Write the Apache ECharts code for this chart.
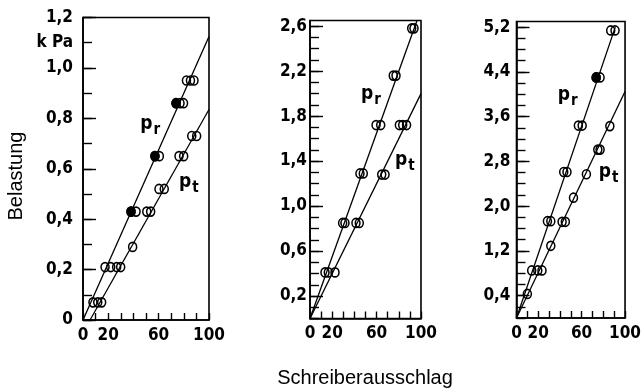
<!DOCTYPE html>
<html><head><meta charset="utf-8">
<script src="https://cdn.jsdelivr.net/npm/echarts@6/dist/echarts.min.js"></script>
<style>html,body{margin:0;padding:0;background:#fff}#c{width:644px;height:392px}</style>
</head><body><div id="c"></div>
<script>
// ---------- data ----------
const xTickLabels = [0, 20, 60, 100];

// left panel (kPa, 0..1.2)
const leftYLabels = [0, 0.2, 0.4, 0.6, 0.8, 1.0, 1.1, 1.2];
const leftPr = [[7.9,0.07],[17.5,0.21],[22,0.21],[38.1,0.43],[42.1,0.43],[57.1,0.65],[60.6,0.65],[73.8,0.86],[77,0.86],[79.8,0.86],[82.1,0.95],[85.3,0.95],[88.1,0.95]];
const leftPrSolid = [[38.1,0.43],[57.1,0.65],[73.8,0.86]];
const leftPt = [[11.7,0.07],[14.8,0.07],[26.7,0.21],[29.9,0.21],[39.4,0.29],[50.6,0.43],[53.7,0.43],[60.3,0.52],[64.5,0.52],[76.2,0.65],[79.9,0.65],[86.3,0.73],[90.2,0.73]];
const leftPrFit = [[0,0],[100,1.125]];
const leftPtFit = [[5.6,0],[100,0.835]];
const leftPrText = [49.4, 0.767];
const leftPtText = [80.2, 0.536];

// middle panel (0..2.65)
const midYLabels = [0.2, 0.6, 1.0, 1.4, 1.8, 2.2, 2.6];
const midPr = [[13.5,0.41],[16.5,0.41],[29.4,0.85],[31.5,0.85],[45,1.29],[48,1.29],[59.5,1.72],[63.7,1.72],[75,2.16],[77.5,2.16],[91.6,2.58],[93.7,2.58]];
const midPt = [[22.5,0.41],[41.4,0.85],[44.4,0.85],[64.6,1.28],[67.6,1.28],[80.5,1.72],[83.5,1.72],[87,1.72]];
const midPrFit = [[0,0],[96.4,2.65]];
const midPtFit = [[0,0],[100,2.0]];
const midPrText = [50.5, 1.97];
const midPtText = [81, 1.38];

// right panel (0..5.3)
const rightYLabels = [0.4, 1.2, 2.0, 2.8, 3.6, 4.4, 5.2];
const rightPr = [[14,0.85],[28.5,1.73],[31.6,1.73],[43.5,2.61],[46.5,2.61],[57,3.44],[60.5,3.44],[73.4,4.3],[77,4.3],[86.8,5.14],[90.8,5.14]];
const rightPrSolid = [[73.4,4.3]];
const rightPt = [[10,0.43],[19.6,0.85],[23.5,0.85],[31.6,1.29],[42,1.72],[45,1.72],[52.5,2.15],[64.4,2.57],[74.9,3.01],[77,3.01],[86,3.43]];
const rightPrFit = [[0,0],[91,5.2]];
const rightPtFit = [[0,0],[100,4.05]];
const rightPrText = [42.6, 3.93];
const rightPtText = [80.5, 2.55];

// ---------- helpers ----------
const NUMFONT = '"DejaVu Sans Condensed","Liberation Sans Narrow","Liberation Sans",sans-serif';
const TXTFONT = '"Liberation Sans",Arial,sans-serif';
function steps(max, step) {
  const out = [];
  for (let i = 0; i * step <= max + 1e-9; i++) out.push(Math.round(i * step * 100) / 100);
  return out;
}
const xMinor = steps(100, 10);
function fmt(v) {
  const r = Math.round(v * 100) / 100;
  if (Math.abs(r - 1.1) < 1e-9) return 'k Pa';
  if (r === 0) return '0';
  return r.toFixed(1).replace('.', ',');
}

const panels = [
  { grid: {left: 83, top: 17.5, width: 126, height: 302.5}, max: 1.2, step: 0.1,
    labels: leftYLabels, majors: leftYLabels.filter(v => Math.abs(v - 1.1) > 1e-9), margin: 10,
    pr: leftPr, pt: leftPt, solid: leftPrSolid, prFit: leftPrFit, ptFit: leftPtFit, prText: leftPrText, ptText: leftPtText },
  { grid: {left: 310, top: 20.5, width: 111, height: 298}, max: 2.65, step: 0.1,
    labels: midYLabels, majors: midYLabels, margin: 3,
    pr: midPr, pt: midPt, solid: [], prFit: midPrFit, ptFit: midPtFit, prText: midPrText, ptText: midPtText },
  { grid: {left: 516.5, top: 21.5, width: 111.5, height: 296.5}, max: 5.3, step: 0.2,
    labels: rightYLabels, majors: rightYLabels, margin: 6,
    pr: rightPr, pt: rightPt, solid: rightPrSolid, prFit: rightPrFit, ptFit: rightPtFit, prText: rightPrText, ptText: rightPtText }
];

const grids = [], xAxes = [], yAxes = [], series = [];
panels.forEach((p, gi) => {
  grids.push(Object.assign({show: true, borderColor: '#000', borderWidth: 1.6, backgroundColor: 'transparent'}, p.grid));
  xAxes.push({
    type: 'value', gridIndex: gi, min: 0, max: 100,
    axisLine: {show: true, lineStyle: {color: '#000', width: 1.6}},
    axisTick: {show: true, inside: true, length: 7, customValues: xMinor, lineStyle: {color: '#000', width: 1.4}},
    axisLabel: {show: true, customValues: xTickLabels, margin: 7, color: '#000', fontSize: 17, fontWeight: 'bold', fontFamily: NUMFONT},
    splitLine: {show: false}
  });
  const yMain = yAxes.length;
  yAxes.push({
    type: 'value', gridIndex: gi, position: 'left', min: 0, max: p.max,
    axisLine: {show: true, lineStyle: {color: '#000', width: 1.6}},
    axisTick: {show: true, inside: true, length: 9, customValues: steps(p.max, p.step), lineStyle: {color: '#000', width: 1.4}},
    axisLabel: {show: true, customValues: p.labels, margin: p.margin, color: '#000', fontSize: 17, fontWeight: 'bold', fontFamily: NUMFONT, formatter: fmt},
    splitLine: {show: false}
  });
  yAxes.push({
    type: 'value', gridIndex: gi, position: 'left', min: 0, max: p.max,
    axisLine: {show: false},
    axisTick: {show: true, inside: true, length: 13, customValues: p.majors, lineStyle: {color: '#000', width: 1.4}},
    axisLabel: {show: false}, splitLine: {show: false}
  });
  const lineS = d => ({type: 'line', xAxisIndex: gi, yAxisIndex: yMain, data: d, showSymbol: false, symbol: 'none',
    lineStyle: {color: '#000', width: 1.3}, silent: true, z: 2, animation: false});
  const dotS = (d, fill) => ({type: 'scatter', xAxisIndex: gi, yAxisIndex: yMain, data: d, symbol: 'circle',
    symbolSize: [8, 9], itemStyle: {color: fill, borderColor: '#000', borderWidth: 1.6, opacity: 1},
    silent: true, z: 3, animation: false});
  const textS = (pos, sub) => ({type: 'scatter', xAxisIndex: gi, yAxisIndex: yMain, data: [pos], symbolSize: 0,
    itemStyle: {opacity: 1, color: '#000'},
    silent: true, z: 4, animation: false,
    label: {show: true, opacity: 1, position: 'inside', align: 'left', verticalAlign: 'middle', offset: [-5, -3],
      formatter: '{a|p}{b|' + sub + '}',
      rich: {a: {fontSize: 19, fontWeight: 'bold', fontFamily: NUMFONT, color: '#000', opacity: 1},
             b: {fontSize: 15, fontWeight: 'bold', fontFamily: NUMFONT, color: '#000', opacity: 1, padding: [12, 0, 0, 1]}}}});
  series.push(lineS(p.prFit), lineS(p.ptFit), dotS(p.pr, 'rgba(0,0,0,0)'), dotS(p.pt, 'rgba(0,0,0,0)'));
  if (p.solid.length) series.push(dotS(p.solid, '#000'));
  series.push(textS(p.prText, 'r'), textS(p.ptText, 't'));
});

const chart = echarts.init(document.getElementById('c'), null, {renderer: 'canvas'});
chart.setOption({
  backgroundColor: '#fff',
  animation: false,
  grid: grids, xAxis: xAxes, yAxis: yAxes, series: series,
  graphic: [
    {type: 'text', x: 16, y: 176, rotation: Math.PI / 2,
      style: {text: 'Belastung', fontSize: 20, fontFamily: TXTFONT, fill: '#000', align: 'center', verticalAlign: 'middle'}},
    {type: 'text', x: 365, y: 378,
      style: {text: 'Schreiberausschlag', fontSize: 20, fontFamily: TXTFONT, fill: '#000', align: 'center', verticalAlign: 'middle'}}
  ]
});
</script></body></html>
